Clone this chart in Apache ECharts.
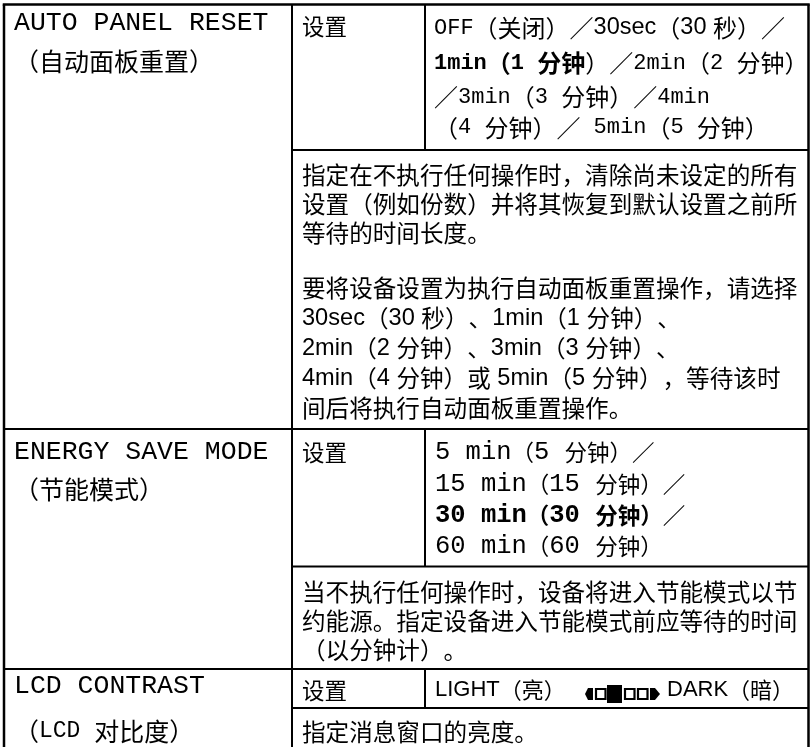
<!DOCTYPE html>
<html><head><meta charset="utf-8">
<script src="https://cdn.jsdelivr.net/npm/echarts@6/dist/echarts.min.js"></script>
<style>html,body{margin:0;padding:0;background:#fff}#c{width:811px;height:747px}</style>
</head><body><div id="c"></div>
<script>
// ---------------- table content ----------------
const settingNames   = ['AUTO PANEL RESET', 'ENERGY SAVE MODE', 'LCD CONTRAST'];
const settingNamesZh = ['（自动面板重置）', '（节能模式）', '（LCD 对比度）'];
const settingLabel   = '设置';

// option lines: [text, fontKey]
const autoResetOptions = [
  [['OFF（关闭）／', 'm'], ['30sec（30 秒）／', 's']],
  [['1min（1 分钟', 'mb'], ['）／2min（2 分钟）', 'm']],
  [['／3min（3 分钟）／4min', 'm']],
  [['（4 分钟）／ 5min（5 分钟）', 'm']]
];
const energySaveOptions = [
  [['5 min（5 分钟）／', 'm2']],
  [['15 min（15 分钟）／', 'm2']],
  [['30 min（30 分钟）', 'm2b'], ['／', 'm2']],
  [['60 min（60 分钟）', 'm2']]
];
const lcdContrastOptions = ['LIGHT（亮）', 'DARK（暗）'];
const contrastCells = 4;     // cells in the contrast scale
const contrastCurrent = 2;   // highlighted cell (1-based)

const autoResetDesc = [
  ['指定在不执行任何操作时，清除尚未设定的所有', '设置（例如份数）并将其恢复到默认设置之前所', '等待的时间长度。'],
  ['要将设备设置为执行自动面板重置操作，请选择', '30sec（30 秒）、1min（1 分钟）、', '2min（2 分钟）、3min（3 分钟）、',
   '4min（4 分钟）或 5min（5 分钟），等待该时', '间后将执行自动面板重置操作。']
];
const energySaveDesc = [['当不执行任何操作时，设备将进入节能模式以节', '约能源。指定设备进入节能模式前应等待的时间', '（以分钟计）。']];
const lcdContrastDesc = [['指定消息窗口的亮度。']];

// ---------------- layout & styles ----------------
const CJK = 'Noto Sans CJK SC';
const FONTS = {
  n1:  { L: { fontFamily: 'Liberation Mono', fontSize: 26.5 }, C: { fontFamily: CJK, fontSize: 25 } },
  n2:  { L: { fontFamily: 'Liberation Mono', fontSize: 23 },   C: { fontFamily: CJK, fontSize: 25 } },
  lab: { L: { fontFamily: 'Liberation Sans', fontSize: 22.5 }, C: { fontFamily: CJK, fontSize: 22.5 } },
  m:   { L: { fontFamily: 'Liberation Mono', fontSize: 22 },   C: { fontFamily: CJK, fontSize: 24 } },
  mb:  { L: { fontFamily: 'Liberation Mono', fontSize: 22, fontWeight: 'bold' }, C: { fontFamily: CJK, fontSize: 24, fontWeight: 'bold' } },
  s:   { L: { fontFamily: 'Liberation Sans', fontSize: 23.5 }, C: { fontFamily: CJK, fontSize: 24 } },
  m2:  { L: { fontFamily: 'Liberation Mono', fontSize: 25.5 }, C: { fontFamily: CJK, fontSize: 22.5 } },
  m2b: { L: { fontFamily: 'Liberation Mono', fontSize: 25.5, fontWeight: 'bold' }, C: { fontFamily: CJK, fontSize: 22.5, fontWeight: 'bold' } },
  d:   { L: { fontFamily: 'Liberation Sans', fontSize: 23.6 }, C: { fontFamily: CJK, fontSize: 23.6 } },
  lc:  { L: { fontFamily: 'Liberation Sans', fontSize: 22 },   C: { fontFamily: CJK, fontSize: 22 } }
};
const RICH = {};
Object.keys(FONTS).forEach(k => {
  RICH[k + 'L'] = Object.assign({ lineHeight: 30, fill: '#000', verticalAlign: 'middle' }, FONTS[k].L);
  RICH[k + 'C'] = Object.assign({ lineHeight: 30, fill: '#000', verticalAlign: 'middle' }, FONTS[k].C);
});

const COL = { left: 4, right: 808.5, c1: 292, c2: 425, tName: 14, tLab: 302, tOpt: 434, tDesc: 302, tDark: 667 };
const ROWS = [
  { top: 4.5, mid: 150,   nameY: [23, 61.5], labY: 26.5, optY: [28, 63, 97, 127.5], descY: [[175, 204, 233], [288, 318, 348, 378, 408]] },
  { top: 429, mid: 566.5, nameY: [452, 489], labY: 452,  optY: [452, 484.5, 515.5, 546], descY: [[592, 621, 650]] },
  { top: 669, mid: 708,   nameY: [686, 731], labY: 690,  optY: [690],               descY: [[732]] }
];
const BOTTOM = 748;

// ---------------- builders ----------------
const elements = [];
function isCJK(ch) { return /[\u2e80-\u9fff\u3000-\u303f\uff00-\uffef]/.test(ch); }
function isPunct(ch) { return /[\u3000-\u303f\uff01-\uff0f\uff1a-\uff20\uff3b-\uff40\uff5b-\uff65]/.test(ch); }
// split into script runs; full-width punctuation gets its own run so it keeps its full advance
function toRich(segs) {
  let out = '';
  segs.forEach(([text, key]) => {
    let run = '', runC = null;
    const flush = () => { if (run) out += '{' + key + (runC ? 'C' : 'L') + '|' + run + '}'; run = ''; };
    for (const ch of text) {
      const c = isCJK(ch);
      if (isPunct(ch)) { flush(); runC = true; run = ch; flush(); runC = null; continue; }
      if (runC !== null && c !== runC) flush();
      run += ch; runC = c;
    }
    flush();
  });
  return out;
}
function addText(segs, x, y) {
  elements.push({ type: 'text', silent: true, z: 10,
    style: { text: toRich(segs), x: x, y: y, rich: RICH, fill: '#000',
             align: 'left', verticalAlign: 'middle', textAlign: 'left', textVerticalAlign: 'middle' } });
}
function line(x1, y1, x2, y2, w) {
  elements.push({ type: 'line', silent: true, z: 5, shape: { x1, y1, x2, y2 }, style: { stroke: '#000', lineWidth: w } });
}

// grid lines
const OUT = 2.5, IN = 2;
line(COL.left - OUT / 2, ROWS[0].top, COL.right + OUT / 2, ROWS[0].top, OUT);
line(COL.left, ROWS[0].top, COL.left, BOTTOM, OUT);
line(COL.right, ROWS[0].top, COL.right, BOTTOM, OUT);
line(COL.c1, ROWS[0].top, COL.c1, BOTTOM, IN);
ROWS.forEach((r, i) => {
  if (i > 0) line(COL.left, r.top, COL.right, r.top, IN);
  line(COL.c1, r.mid, COL.right, r.mid, IN);
  line(COL.c2, r.top, COL.c2, r.mid, IN);
});

// column 1 names + label
ROWS.forEach((r, i) => {
  addText([[settingNames[i], 'n1']], COL.tName, r.nameY[0]);
  addText([[settingNamesZh[i], 'n2']], COL.tName, r.nameY[1]);
  addText([[settingLabel, 'lab']], COL.tLab, r.labY);
});

// options
autoResetOptions.forEach((segs, j) => addText(segs, COL.tOpt, ROWS[0].optY[j]));
energySaveOptions.forEach((segs, j) => addText(segs, COL.tOpt + 1, ROWS[1].optY[j]));
addText([[lcdContrastOptions[0], 'lc']], COL.tOpt + 1, ROWS[2].optY[0]);
addText([[lcdContrastOptions[1], 'lc']], COL.tDark, ROWS[2].optY[0]);

// contrast scale icon
(function () {
  const y = ROWS[2].optY[0] + 4, h = 12, x0 = 585;
  elements.push({ type: 'polygon', silent: true, shape: { points: [[x0, y], [x0 + 3, y - h / 2], [x0 + 8, y - h / 2], [x0 + 8, y + h / 2], [x0 + 3, y + h / 2]] }, style: { fill: '#000' } });
  let x = x0 + 10;
  for (let k = 1; k <= contrastCells; k++) {
    if (k === contrastCurrent) {
      elements.push({ type: 'rect', silent: true, shape: { x: x - 1, y: y - h / 2 - 3, width: 15, height: h + 6 }, style: { fill: '#000' } });
      x += 16;
    } else {
      elements.push({ type: 'rect', silent: true, shape: { x: x + 1, y: y - h / 2 + 1, width: 9.5, height: h - 2 }, style: { fill: '#fff', stroke: '#000', lineWidth: 2.2 } });
      x += 13;
    }
  }
  elements.push({ type: 'polygon', silent: true, shape: { points: [[x, y - h / 2], [x + 5, y - h / 2], [x + 10, y], [x + 5, y + h / 2], [x, y + h / 2]] }, style: { fill: '#000' } });
})();

// descriptions
[autoResetDesc, energySaveDesc, lcdContrastDesc].forEach((paras, i) => {
  paras.forEach((lines, p) => lines.forEach((t, j) => addText([[t, 'd']], COL.tDesc, ROWS[i].descY[p][j])));
});

const chart = echarts.init(document.getElementById('c'), null, { renderer: 'canvas' });
chart.setOption({ backgroundColor: '#fff', animation: false, graphic: { elements: elements } });
</script>
</body></html>
